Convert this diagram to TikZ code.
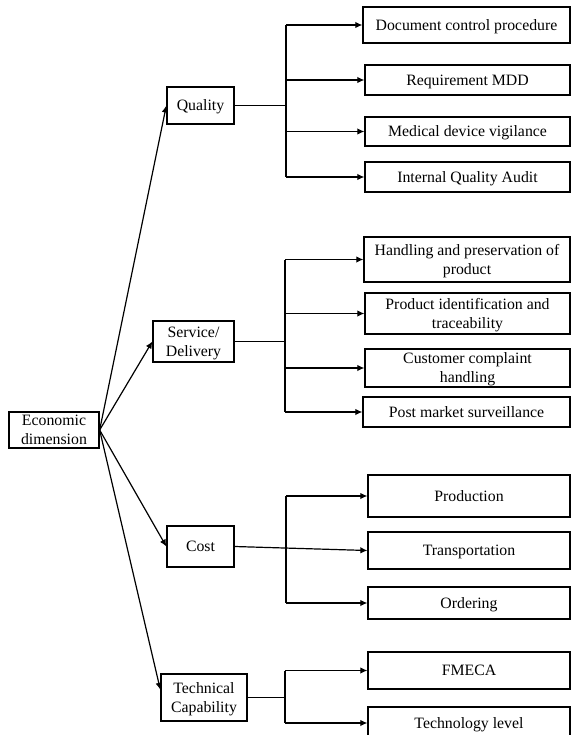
\documentclass[tikz,border=0pt]{standalone}
\usepackage{fontspec}
\setmainfont{Liberation Serif}
\usetikzlibrary{arrows.meta,calc}
\begin{document}
\begin{tikzpicture}[x=1pt,y=-1pt,
  box/.style={draw=black,line width=1.3pt,inner sep=0pt,align=center,
    font=\fontsize{15.8}{19}\selectfont,text=black,text depth=0pt},
  conn/.style={draw=black,line width=1.2pt},
  arr/.style={conn,-{Latex[length=7pt,width=6.5pt]}}]
\useasboundingbox (0,0) rectangle (571,735);
% helper: box from corners
\newcommand{\bx}[7][]{\node[box,#1,minimum width={#5-#3},minimum height={#6-#4}] (#2) at ({(#3+#5)/2},{(#4+#6)/2}) {#7};}
\bx{econ}{9}{412}{99}{448}{Economic\\dimension}
\bx{quality}{167}{87}{234}{124}{Quality}
\bx{service}{153}{321}{234}{362}{Service/\\Delivery}
\bx{cost}{167}{526}{234}{567}{Cost}
\bx{techcap}{161}{674}{247}{721}{Technical\\Capability}
\bx{doc}{363}{7}{570}{43}{Document control procedure}
\bx{req}{365}{65}{570}{95}{Requirement MDD}
\bx{med}{365}{117}{570}{146}{Medical device vigilance}
\bx{iqa}{365}{162}{570}{192}{Internal Quality Audit}
\bx{handling}{364}{237}{570}{282}{Handling and preservation of\\product}
\bx{prodid}{365}{293}{570}{334}{Product identification and\\traceability}
\bx{customer}{365}{349}{570}{387}{Customer complaint\\handling}
\bx{post}{363}{397}{570}{427}{Post market surveillance}
\bx{production}{368}{475}{570}{517}{Production}
\bx{transport}{368}{532}{570}{569}{Transportation}
\bx{ordering}{368}{587}{570}{619}{Ordering}
\bx{fmeca}{368}{652}{570}{689}{FMECA}
\bx{techlvl}{368}{707}{570}{739}{Technology level}
% trunk coordinates
\coordinate (qt) at (286,0);
\coordinate (st) at (285,0);
\coordinate (ct) at (286,0);
\coordinate (tt) at (285,0);
% economic to categories
\draw[arr] (econ.east) -- (quality.west);
\draw[arr] (econ.east) -- (service.west);
\draw[arr] (econ.east) -- (cost.west);
\draw[arr] (econ.east) -- ($(techcap.north west)!0.34!(techcap.south west)$);
% quality
\draw[conn] (quality.east) -- (qt |- quality.east);
\draw[conn] (qt |- doc.west) -- (qt |- iqa.west);
\draw[arr] (qt |- doc.west) -- (doc.west);
\draw[arr] (qt |- req.west) -- (req.west);
\draw[arr] (qt |- med.west) -- (med.west);
\draw[arr] (qt |- iqa.west) -- (iqa.west);
% service
\draw[conn] (service.east) -- (st |- service.east);
\draw[conn] (st |- handling.west) -- (st |- post.west);
\draw[arr] (st |- handling.west) -- (handling.west);
\draw[arr] (st |- prodid.west) -- (prodid.west);
\draw[arr] (st |- customer.west) -- (customer.west);
\draw[arr] (st |- post.west) -- (post.west);
% cost
\draw[conn] (ct |- production.west) -- (ct |- ordering.west);
\draw[arr] (ct |- production.west) -- (production.west);
\draw[arr] (cost.east) -- (transport.west);
\draw[arr] (ct |- ordering.west) -- (ordering.west);
% technical
\draw[conn] (techcap.east) -- (tt |- techcap.east);
\draw[conn] (tt |- fmeca.west) -- (tt |- techlvl.west);
\draw[arr] (tt |- fmeca.west) -- (fmeca.west);
\draw[arr] (tt |- techlvl.west) -- (techlvl.west);
\end{tikzpicture}
\end{document}
